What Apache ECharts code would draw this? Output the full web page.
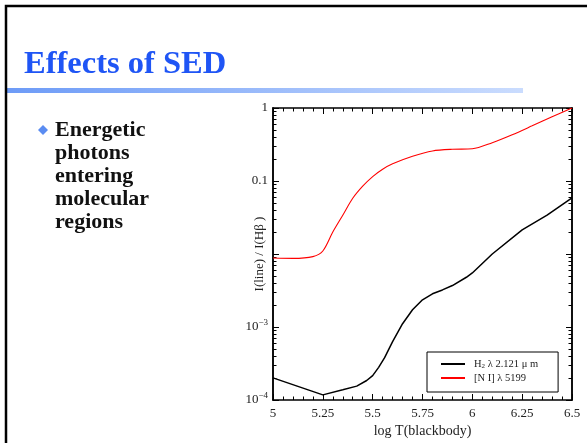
<!DOCTYPE html>
<html>
<head>
<meta charset="utf-8">
<script src="https://cdn.jsdelivr.net/npm/echarts@6/dist/echarts.min.js"></script>
<style>
html,body{margin:0;padding:0;background:#fff;}
#chart{width:587px;height:443px;}
</style>
</head>
<body>
<div id="chart"></div>
<script>
// ---- data ----
const niLogT = [5.0, 5.1, 5.2, 5.25, 5.3, 5.35, 5.4, 5.45, 5.5, 5.55, 5.6, 5.7, 5.8, 5.9, 6.0, 6.1, 6.2, 6.3, 6.4, 6.5];
const niRatio = [0.0088, 0.0087, 0.0092, 0.011, 0.020, 0.034, 0.058, 0.085, 0.115, 0.145, 0.172, 0.218, 0.258, 0.272, 0.276, 0.335, 0.43, 0.57, 0.76, 1.0];

const h2LogT = [5.0, 5.25, 5.35, 5.42, 5.47, 5.5, 5.53, 5.56, 5.6, 5.65, 5.7, 5.75, 5.8, 5.85, 5.9, 5.97, 6.0, 6.1, 6.25, 6.375, 6.5];
const h2Ratio = [0.000201, 0.0001175, 0.000138, 0.000155, 0.000185, 0.000216, 0.00028, 0.00038, 0.00063, 0.00111, 0.00172, 0.00236, 0.00285, 0.00322, 0.0037, 0.0048, 0.0055, 0.0100, 0.0214, 0.034, 0.0589];

const seriesNames = ['H{sub|2} λ 2.121 μ m', '[N I] λ 5199'];
const yMajorTicks = [1e-4, 1e-3, 1e-2, 1e-1, 1];
const yTickLabels = ['10{sup|−4}', '10{sup|−3}', '', '0.1', '1'];
const yMinorTicks = [];
for (let d = -4; d < 0; d++) for (let k = 2; k <= 9; k++) yMinorTicks.push(+(k * Math.pow(10, d)).toPrecision(3));

const serif = '"Liberation Serif","DejaVu Serif",serif';

const chart = echarts.init(document.getElementById('chart'));

function yLabel(v) {
  const e = Math.round(Math.log10(v));
  const i = yMajorTicks.findIndex(t => Math.round(Math.log10(t)) === e);
  return i >= 0 ? yTickLabels[i] : '';
}

const axisLine = {show: true, lineStyle: {color: '#000', width: 1.5}};

function yAxisDef(pos, major, labels) {
  return {
    type: 'log', logBase: 10, min: 1e-4, max: 1, position: pos,
    axisLine: axisLine,
    splitLine: {show: false},
    axisTick: {show: true, inside: true, length: major ? 6 : 3.5,
      lineStyle: {color: '#000', width: 1},
      customValues: major ? yMajorTicks : yMinorTicks},
    axisLabel: labels ? {show: true, customValues: yMajorTicks, formatter: yLabel, margin: 5,
      fontFamily: serif, fontSize: 13, color: '#222',
      rich: {sup: {fontFamily: serif, fontSize: 9, verticalAlign: 'top', padding: [0, 0, 8, 0], color: '#222'}}} : {show: false},
    name: labels ? 'I(line) / I(Hβ )' : '',
    nameLocation: 'middle', nameGap: 7, nameRotate: 90, nameMoveOverlap: false,
    nameTextStyle: {fontFamily: serif, fontSize: 13, color: '#222'}
  };
}

function xAxisDef(pos, labels) {
  return {
    type: 'value', min: 5, max: 6.5, interval: 0.25, position: pos,
    axisLine: axisLine,
    splitLine: {show: false},
    axisTick: {show: true, inside: true, length: 6, lineStyle: {color: '#000', width: 1}},
    minorTick: {show: true, splitNumber: 5, length: 3.5, lineStyle: {color: '#000', width: 1}},
    minorSplitLine: {show: false},
    axisLabel: labels ? {show: true, margin: 7, fontFamily: serif, fontSize: 13, color: '#222',
      formatter: v => String(+v.toFixed(2))} : {show: false},
    name: labels ? 'log T(blackbody)' : '',
    nameLocation: 'middle', nameGap: 24, nameMoveOverlap: false,
    nameTextStyle: {fontFamily: serif, fontSize: 14, color: '#222'}
  };
}

const option = {
  animation: false,
  backgroundColor: '#fff',
  grid: {left: 273, right: 15, top: 108, bottom: 38, containLabel: false},
  xAxis: [xAxisDef('bottom', true), xAxisDef('top', false)],
  yAxis: [yAxisDef('left', true, true), yAxisDef('left', false, false), yAxisDef('right', true, false), yAxisDef('right', false, false)],
  legend: {
    show: true, orient: 'vertical', left: 427, top: 352,
    padding: [6, 20, 8, 14],
    borderColor: '#000', borderWidth: 1, backgroundColor: '#fff',
    itemWidth: 24, itemHeight: 2, itemGap: 2,
    icon: 'rect',
    data: [seriesNames[0], seriesNames[1]],
    textStyle: {fontFamily: serif, fontSize: 10.5, color: '#222', lineHeight: 12, padding: [0, 0, 0, 4],
      rich: {sub: {fontFamily: serif, fontSize: 7, verticalAlign: 'bottom', padding: [4, 0, 0, 0], color: '#222'}}}
  },
  graphic: [
    {type: 'rect', silent: true, z: 100, shape: {x: 6, y: 6, width: 700, height: 600},
      style: {fill: 'none', stroke: '#000', lineWidth: 2.5}},
    {type: 'rect', silent: true, shape: {x: 7, y: 88, width: 516, height: 5},
      style: {fill: new echarts.graphic.LinearGradient(0, 0, 1, 0, [
        {offset: 0, color: '#6d9bf7'}, {offset: 1, color: '#cadcfe'}])}},
    {type: 'text', silent: true, left: 24, top: 48,
      style: {text: 'Effects of SED', fill: '#1f55f5', font: 'bold 32.5px ' + serif}},
    {type: 'polygon', silent: true, shape: {points: [[43, 125], [48, 130], [43, 135], [38, 130]]},
      style: {fill: '#5a8cf2'}},
    {type: 'text', silent: true, left: 55, top: 119,
      style: {text: 'Energetic\nphotons\nentering\nmolecular\nregions', fill: '#111',
        font: 'bold 22px ' + serif, lineHeight: 23}}
  ],
  series: [
    {name: seriesNames[0], type: 'line', xAxisIndex: 0, yAxisIndex: 0, showSymbol: false, symbol: 'none',
      data: h2LogT.map((x, i) => [x, h2Ratio[i]]),
      lineStyle: {color: '#000', width: 1.5}, itemStyle: {color: '#000'}, z: 3},
    {name: seriesNames[1], type: 'line', xAxisIndex: 0, yAxisIndex: 0, showSymbol: false, symbol: 'none',
      data: niLogT.map((x, i) => [x, niRatio[i]]),
      smooth: 0.3,
      lineStyle: {color: '#ff0000', width: 1.1}, itemStyle: {color: '#ff0000'}, z: 2}
  ]
};
chart.setOption(option);
</script>
</body>
</html>
